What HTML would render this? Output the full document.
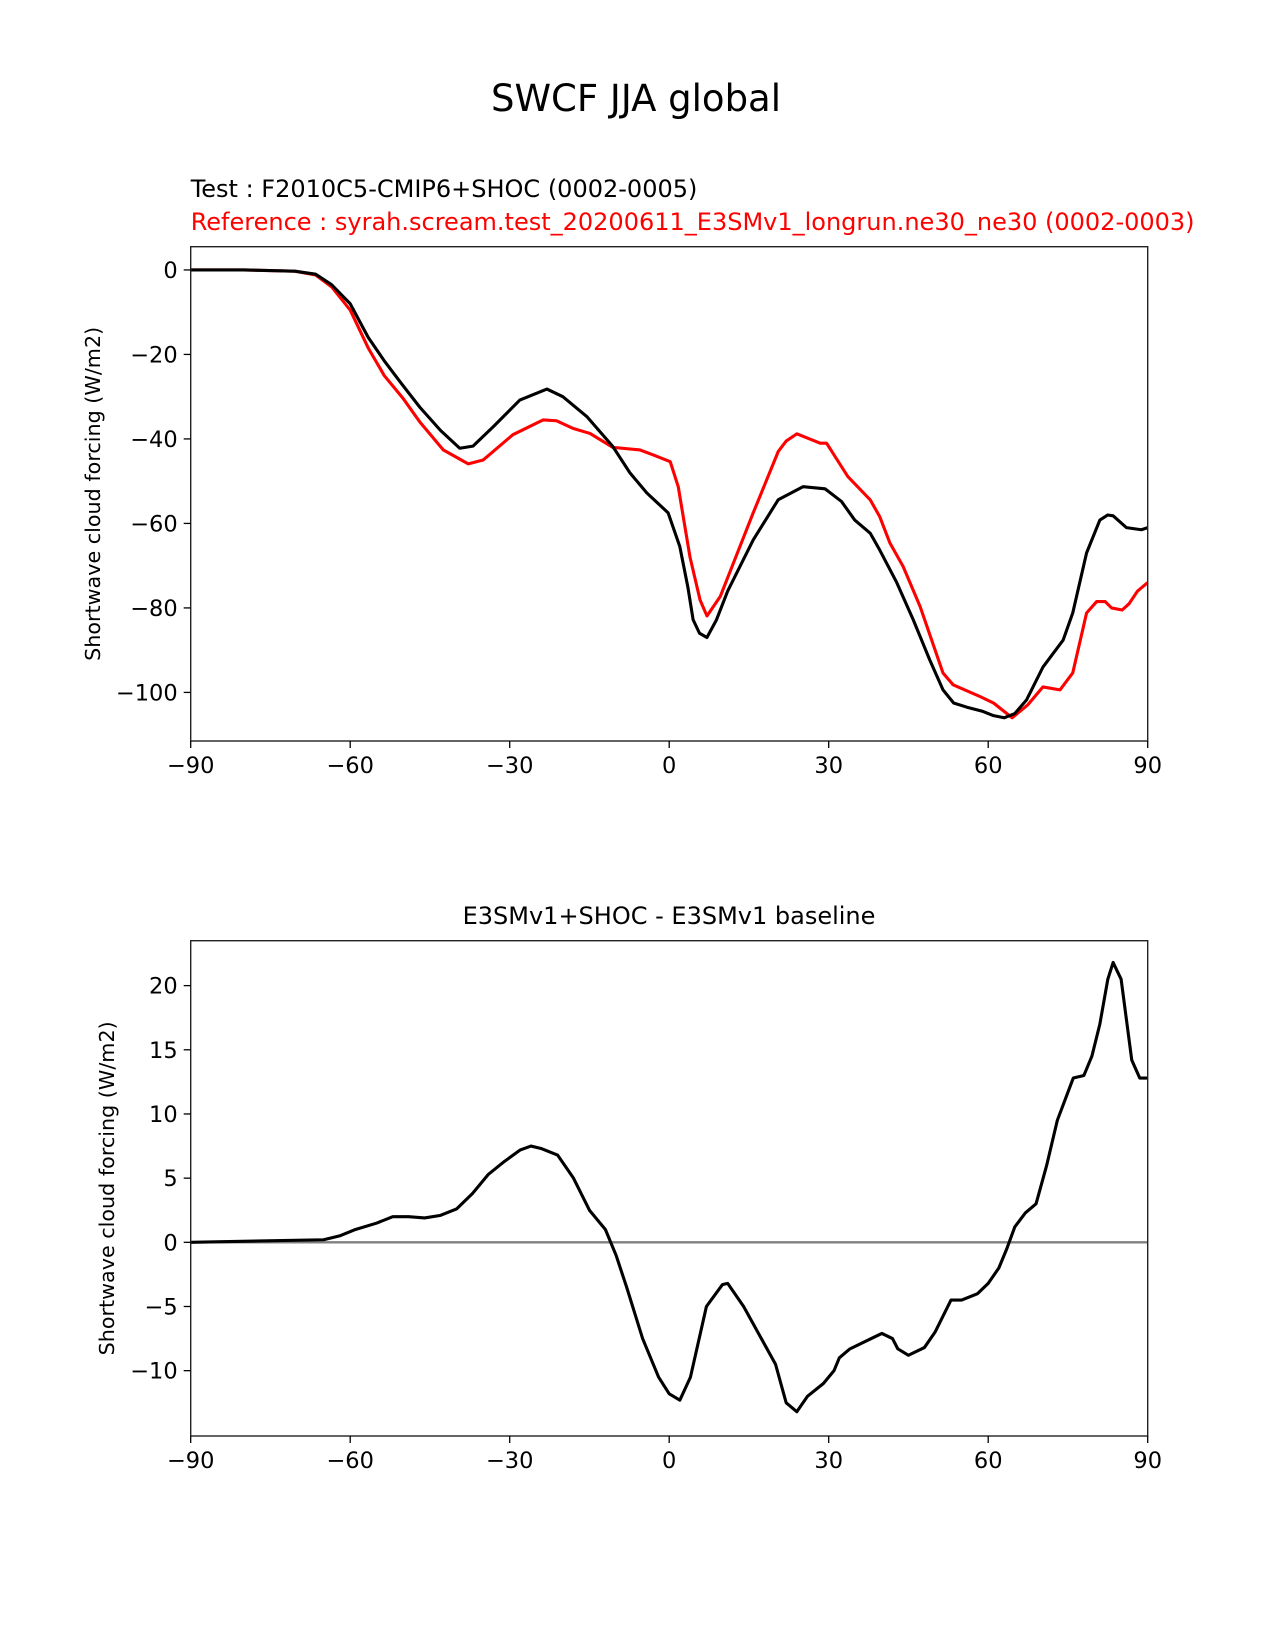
<!DOCTYPE html>
<html><head><meta charset="utf-8"><style>
body{margin:0;background:#fff}
svg{display:block;font-family:"DejaVu Sans","Liberation Sans",sans-serif}
</style></head><body>
<svg id="fig" width="1275" height="1650" viewBox="0 0 1275 1650" xmlns="http://www.w3.org/2000/svg">
<rect width="1275" height="1650" fill="#fff"/>
<text x="636" y="111" font-size="37" text-anchor="middle">SWCF JJA global</text>
<text x="190.7" y="197" font-size="24">Test : F2010C5-CMIP6+SHOC (0002-0005)</text>
<text x="190.7" y="230" font-size="24" fill="#ff0000">Reference : syrah.scream.test_20200611_E3SMv1_longrun.ne30_ne30 (0002-0003)</text>
<text x="669" y="924" font-size="24" text-anchor="middle">E3SMv1+SHOC - E3SMv1 baseline</text>
<g id="top"></g>
<g id="bot"></g>
</svg>
<script>
const xTicks=[-90,-60,-30,0,30,60,90];
const topYTicks=[0,-20,-40,-60,-80,-100];
const botYTicks=[20,15,10,5,0,-5,-10];
const testLat=[-90,-80,-70.4,-66.5,-63.5,-60,-56.6,-53.6,-50,-46.9,-43,-39.4,-36.9,-33,-28.1,-23,-20,-15.5,-10.6,-7.4,-4.2,-0.2,2,3.5,4.5,5.7,7.1,8.9,11,15.8,20.5,25.2,29.3,32.4,34.9,37.8,39.6,42.8,45.9,49,51.5,53.5,56,59,61,63,65,67.2,70.3,74.1,75.9,78.5,81,82.5,83.5,86,88.8,90];
const testVal=[0,0,-0.3,-1,-3.5,-8,-16,-21.5,-27.5,-32.5,-38,-42.2,-41.7,-37,-30.8,-28.2,-30,-34.7,-41.8,-48,-52.8,-57.5,-65.5,-75,-82.8,-86,-87,-82.8,-76,-63.9,-54.4,-51.3,-51.8,-54.8,-59.2,-62.3,-66.3,-74,-82.8,-92.3,-99.4,-102.5,-103.5,-104.5,-105.5,-106,-105,-101.8,-94,-87.6,-81.2,-67,-59.2,-58,-58.2,-61,-61.5,-61];
const refLat=[-90,-80,-70.4,-66.5,-63.5,-60,-56.6,-53.6,-50,-46.9,-42.5,-37.8,-35,-29.4,-23.7,-21.2,-18.1,-14.9,-10.6,-5.5,-3,0.2,1.7,3.9,5.8,7.1,9.6,15.8,20.5,22,24,28.4,29.6,33.6,37.8,39.6,41.5,44,47.2,51.5,53.4,58.5,61,64.5,67.4,70.3,73.5,75.9,78.5,80.4,82,83.2,85.2,86.5,88.1,90];
const refVal=[0,0,-0.3,-1.2,-4,-9.5,-18.5,-25,-30.5,-36,-42.6,-45.9,-45,-39,-35.5,-35.7,-37.5,-38.7,-42,-42.6,-43.8,-45.4,-51.3,-67.9,-78.1,-81.9,-77.3,-57.5,-43,-40.5,-38.8,-41,-41,-48.9,-54.4,-58.4,-64.6,-70.2,-79.7,-95.4,-98.2,-101,-102.5,-106,-103,-98.7,-99.4,-95.4,-81.2,-78.5,-78.5,-80,-80.5,-79,-76,-74];
const diffLat=[-90,-65,-62,-59,-55,-52,-49,-46,-43,-40,-37,-34,-31,-28,-26,-24,-21,-18,-15,-12,-10,-8,-5,-2,0,2,4,7,10,11,14,16,20,22,24,26,29,31,32,34,38,40,42,43,45,48,50,53,55,58,60,62,63.5,65,67,69,71,73,76,78,79.5,81,82.5,83.5,85,87,88.5,90];
const diffVal=[0,0.2,0.5,1,1.5,2,2,1.9,2.1,2.6,3.8,5.3,6.3,7.2,7.5,7.3,6.8,5,2.5,1,-1,-3.5,-7.5,-10.5,-11.8,-12.3,-10.5,-5,-3.3,-3.2,-5,-6.5,-9.5,-12.5,-13.2,-12,-11,-10,-9,-8.3,-7.5,-7.1,-7.5,-8.3,-8.8,-8.2,-7,-4.5,-4.5,-4,-3.2,-2,-0.5,1.2,2.3,3,6,9.5,12.8,13,14.5,17,20.5,21.8,20.5,14.2,12.8,12.8];
const NS='http://www.w3.org/2000/svg';
function mk(p,t,a){const e=document.createElementNS(NS,t);for(const k in a)e.setAttribute(k,a[k]);p.appendChild(e);return e;}
function panel(g,top,bottom,ymin,ymax,yTicks,series,zero,ylab){
 const L=190.7,R=1147.7;
 const X=v=>L+(v+90)/180*(R-L);
 const Y=v=>bottom-(v-ymin)/(ymax-ymin)*(bottom-top);
 if(zero){const z=mk(g,'line',{x1:L,x2:R,y1:Y(0),y2:Y(0),stroke:'#808080','stroke-width':2.3});
 
 }
 series.forEach(s=>{const p=mk(g,'polyline',{points:s.lat.map((la,i)=>X(la)+','+Y(s.val[i])).join(' '),fill:'none',stroke:s.c,'stroke-width':3.1,'stroke-linejoin':'round'});
 
 });
 const f=mk(g,'rect',{x:L,y:top,width:R-L,height:bottom-top,fill:'none',stroke:'#222','stroke-width':1.4});
 
 
 xTicks.forEach(t=>{mk(g,'line',{x1:X(t),x2:X(t),y1:bottom,y2:bottom+7,stroke:'#000','stroke-width':1.3});
 const tx=mk(g,'text',{x:X(t),y:bottom+32,'font-size':22.5,'text-anchor':'middle'});tx.textContent=(t<0?'\u2212'+(-t):t);
 
 });
 yTicks.forEach(t=>{mk(g,'line',{x1:L-7,x2:L,y1:Y(t),y2:Y(t),stroke:'#000','stroke-width':1.3});
 const tx=mk(g,'text',{x:L-13,y:Y(t)+8,'font-size':22.5,'text-anchor':'end'});tx.textContent=(t<0?'\u2212'+(-t):t);
 
 });
 const cy=(top+bottom)/2;
 const yl=mk(g,'text',{x:ylab,y:cy,'font-size':20.7,'text-anchor':'middle',transform:'rotate(-90 '+ylab+' '+cy+')'});
 yl.textContent='Shortwave cloud forcing (W/m2)';
 
 
}
panel(document.getElementById('top'),246.7,741,-111.5,5.5,topYTicks,[{lat:refLat,val:refVal,c:'#ff0000',name:'reference-line'},{lat:testLat,val:testVal,c:'#000',name:'test-line'}],false,100);
panel(document.getElementById('bot'),940.7,1436,-15.09,23.5,botYTicks,[{lat:diffLat,val:diffVal,c:'#000',name:'difference-line'}],true,114);
</script>
</body></html>
